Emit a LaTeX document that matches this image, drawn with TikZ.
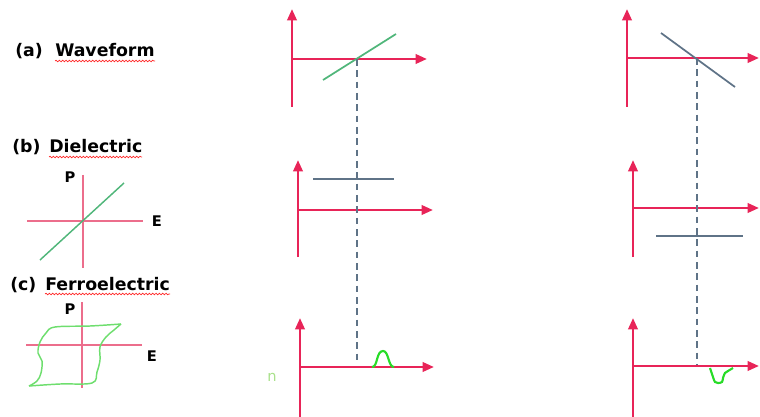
\documentclass[tikz,border=0pt]{standalone}
\usepackage{fontspec}
\setmainfont{DejaVu Sans}
\usetikzlibrary{arrows.meta,decorations.pathmorphing}
\definecolor{axisred}{RGB}{232,36,88}
\definecolor{lightaxis}{RGB}{236,110,140}
\definecolor{wgreen}{RGB}{80,182,122}
\definecolor{slate}{RGB}{95,115,135}
\definecolor{bump}{RGB}{40,220,40}
\definecolor{loopgreen}{RGB}{110,222,110}
\definecolor{ngreen}{RGB}{170,225,140}
\tikzset{
 axis/.style={draw=axisred, line width=1.9pt, -{Triangle[length=8.5pt,width=7pt]}},
 smallaxis/.style={draw=lightaxis, line width=1.1pt},
 guide/.style={draw=slate, line width=1.2pt, dash pattern=on 5pt off 3.5pt},
 lbl/.style={font=\fontsize{13}{15}\selectfont\bfseries, inner sep=0pt, anchor=base west},
 pe/.style={font=\fontsize{11}{13}\selectfont\bfseries, inner sep=0pt},
 spell/.style={draw=red!85, line width=0.5pt, decorate, decoration={snake, amplitude=0.6pt, segment length=2.5pt}},
 respline/.style={draw=wgreen, line width=1.3pt},
 levelline/.style={draw=slate, line width=1.3pt},
}
\begin{document}
\begin{tikzpicture}[x=0.75pt,y=-0.75pt]
\useasboundingbox (0,0) rectangle (760,417);
% ---------- labels ----------
\node[lbl] (la) at (15,57) {(a)};
\node[lbl] (lwave) at (55,57) {Waveform};
\draw[spell] (55,61) -- (155,61);
\node[lbl] (lb) at (12,153) {(b)};
\node[lbl] (ldiel) at (49,153) {Dielectric};
\draw[spell] (49,157) -- (142,157);
\node[lbl] (lc) at (10,290) {(c)};
\node[lbl] (lferro) at (45,290) {Ferroelectric};
\draw[spell] (45,294) -- (170,294);
% ---------- dielectric small plot ----------
\draw[smallaxis] (83,175) -- (83,268);
\draw[smallaxis] (27,221) -- (143,221);
\draw[draw=wgreen, line width=1.1pt] (40,260) -- (124,183);
\node[pe] (pb) at (70,177) {P};
\node[pe] (eb) at (157,221) {E};
% ---------- ferroelectric small plot ----------
\draw[smallaxis] (82,302) -- (82,388);
\draw[smallaxis] (26,345) -- (142,345);
\draw[draw=loopgreen, line width=1.1pt]
  plot[smooth, tension=0.6] coordinates {(29,386) (60,384) (92,383) (97,372) (100,360) (100,347) (106,337) (114,330) (121,324)};
\draw[draw=loopgreen, line width=1.1pt]
  plot[smooth, tension=0.6] coordinates {(121,324) (90,326) (55,327) (46,333) (40,342) (38,353) (42,361) (41,373) (37,381) (29,386)};
\node[pe] (pc) at (70,309) {P};
\node[pe] (ec) at (152,356) {E};
% ---------- main plots: left column ----------
\coordinate (o1) at (292,59);
\coordinate (o2) at (298,210);
\coordinate (o3) at (300,367);
\draw[axis] (292,107) -- (292,9);
\draw[axis] (o1) -- (427,59);
\draw[axis] (298,257) -- (298,160);
\draw[axis] (o2) -- (433,210);
\draw[axis] (300,417) -- (300,318);
\draw[axis] (o3) -- (434,367);
\draw[respline] (323,80) -- (396,34);
\draw[levelline] (313,179) -- (394,179);
\coordinate (d1t) at (357,59);
\coordinate (d1b) at (357,363);
\draw[guide] (d1t) -- (d1b);
\draw[draw=bump, line width=1.6pt] (372,367) .. controls (378,367) and (376,351) .. (383,351) .. controls (389,351) and (388,367) .. (394,367);
\node[font=\fontsize{11}{13}\selectfont, text=ngreen, inner sep=0pt] (nlbl) at (272,377) {n};
% ---------- main plots: right column ----------
\coordinate (r1) at (627,58);
\coordinate (r2) at (633,208);
\coordinate (r3) at (633,366);
\draw[axis] (627,107) -- (627,9);
\draw[axis] (r1) -- (759,58);
\draw[axis] (633,257) -- (633,160);
\draw[axis] (r2) -- (759,208);
\draw[axis] (633,417) -- (633,318);
\draw[axis] (r3) -- (759,366);
\draw[levelline] (661,33) -- (735,87);
\draw[levelline] (656,236) -- (743,236);
\coordinate (d2t) at (697,58);
\coordinate (d2b) at (697,365);
\draw[guide] (d2t) -- (d2b);
\draw[draw=bump, line width=1.6pt]
  plot[smooth, tension=0.6] coordinates {(710,368) (713,377) (715,382) (718,383) (722,382) (723,378) (725,373) (728,371) (733,368)};
\end{tikzpicture}
\end{document}
